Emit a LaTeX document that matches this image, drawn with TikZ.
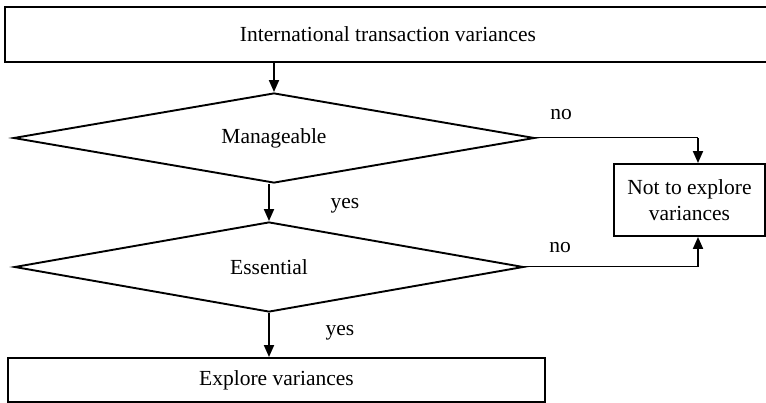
\documentclass[tikz,border=0pt]{standalone}
\usepackage{fontspec}
\setmainfont{Liberation Serif}
\usetikzlibrary{shapes.geometric,arrows.meta}

\begin{document}
\begin{tikzpicture}[x=1pt,y=-1pt,
    box/.style={draw, line width=1.9pt, rectangle, inner sep=0pt, align=center},
    choice/.style={draw, line width=1.9pt, shape=diamond, aspect=5.8, inner sep=0pt},
    arr/.style={line width=1.9pt, -{Triangle[length=12pt,width=10pt]}},
    thinline/.style={line width=1pt},
    lbl/.style={inner sep=0pt}]
    \useasboundingbox (0,0) rectangle (766,403);
    \fontsize{21.5}{25.5}\selectfont

    \node[box, minimum width=766pt, minimum height=55pt] (top) at (388,34.5) {International transaction variances};
    \node[choice, minimum width=521pt, minimum height=90pt] (mng) at (274,138) {Manageable};
    \node[choice, minimum width=509pt, minimum height=90pt] (ess) at (269,267) {Essential};
    \node[box, minimum width=151pt, minimum height=72pt] (notx) at (689.5,200) {Not to explore\\variances};
    \node[box, minimum width=537pt, minimum height=44pt] (expl) at (276.5,380) {Explore variances};

    \coordinate (c1) at (698,138);
    \coordinate (c2) at (698,267);

    \draw[arr] (mng.north |- top.south) -- (mng.north);
    \draw[arr] (ess.north |- mng.south) -- (ess.north);
    \draw[arr] (ess.south) -- (ess.south |- expl.north);
    \draw[thinline] (mng.east) -- (c1);
    \draw[arr] (c1) -- (c1 |- notx.north);
    \draw[thinline] (ess.east) -- (c2);
    \draw[arr] (c2) -- (c2 |- notx.south);

    \node[lbl] (no1) at (561,115) {no};
    \node[lbl] (no2) at (560,248) {no};
    \node[lbl] (yes1) at (345,206) {yes};
    \node[lbl] (yes2) at (340,333) {yes};
\end{tikzpicture}
\end{document}
